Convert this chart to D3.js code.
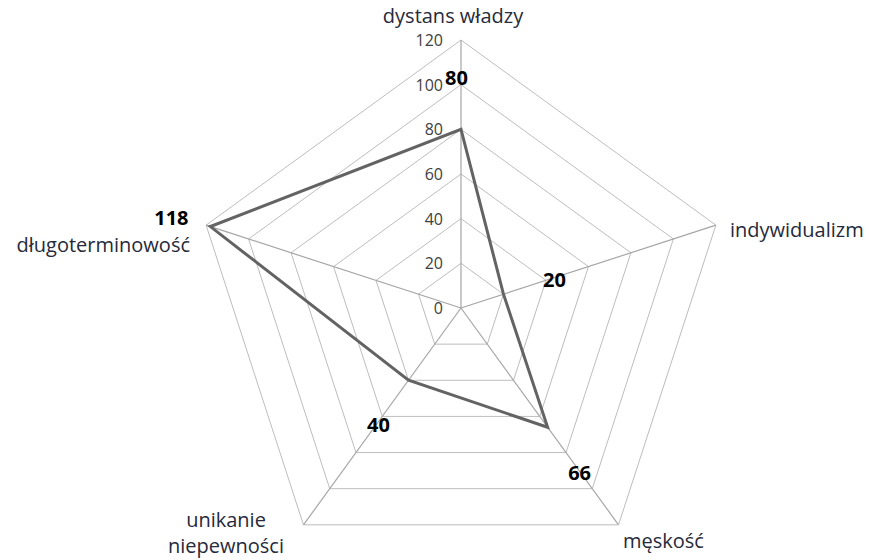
<!DOCTYPE html>
<html><head><meta charset="utf-8">
<script src="https://cdn.jsdelivr.net/npm/d3@7"></script>
<style>body{margin:0;background:#fff}svg{display:block}</style>
</head><body>
<svg id="c" width="869" height="560"></svg>
<script>
const categories = ["dystans władzy","indywidualizm","męskość","unikanie niepewności","długoterminowość"];
const values = [80,20,66,40,118];
const ticks = [0,20,40,60,80,100,120];

const svg = d3.select("#c");
const cx = 461, cy = 308, R = 268;
const r = d3.scaleLinear().domain([0,120]).range([0,R]);
const n = categories.length;
const ang = i => -Math.PI/2 + i*2*Math.PI/n;
const pt = (i,v) => [cx + r(v)*Math.cos(ang(i)), cy + r(v)*Math.sin(ang(i))];
const font = "'Open Sans', sans-serif";

// grid
ticks.slice(1).forEach(t=>{
  svg.append("polygon")
    .attr("points", categories.map((c,i)=>pt(i,t).join(",")).join(" "))
    .attr("fill","none").attr("stroke","#bdbdbd").attr("stroke-width",1);
});
categories.forEach((c,i)=>{
  const p = pt(i,120);
  svg.append("line").attr("x1",cx).attr("y1",cy).attr("x2",p[0]).attr("y2",p[1])
    .attr("stroke","#a6a6a6").attr("stroke-width",1.2);
});
// tick labels
ticks.forEach(t=>{
  svg.append("text").attr("x",cx-18).attr("y",cy-r(t)+6)
    .attr("text-anchor","end").attr("font-family",font).attr("font-size",16)
    .attr("fill","#404040").text(t);
});
// data line
const line = d3.line().curve(d3.curveLinearClosed);
svg.append("path").attr("d", line(values.map((v,i)=>pt(i,v))))
  .attr("fill","none").attr("stroke","#636363").attr("stroke-width",3).attr("stroke-linejoin","miter");

// value labels (offset from the data point: dx, baseline dy)
const off = [[-4.5,-44],[51,-7],[32,53],[-30,52],[-39,-1.5]];
values.forEach((v,i)=>{
  const p = pt(i,v);
  svg.append("text").attr("x",p[0]+off[i][0]).attr("y",p[1]+off[i][1])
    .attr("text-anchor","middle").attr("font-family",font).attr("font-size",20)
    .attr("font-weight","bold").attr("fill","#000").text(v);
});

// category labels
const catPos = [
  {x:453,y:23,a:"middle",lines:["dystans władzy"]},
  {x:730,y:237,a:"start",lines:["indywidualizm"]},
  {x:623,y:548,a:"start",lines:["męskość"]},
  {x:226,y:527,a:"middle",lines:["unikanie","niepewności"]},
  {x:190,y:252,a:"end",lines:["długoterminowość"]}
];
catPos.forEach((c,i)=>{
  const t = svg.append("text").attr("x",c.x).attr("y",c.y).attr("text-anchor",c.a)
    .attr("font-family",font).attr("font-size",20).attr("fill","#262a3a");
  c.lines.forEach((l,k)=>t.append("tspan").attr("x",c.x).attr("dy",k?26:0).text(l));
});
</script>
</body></html>
